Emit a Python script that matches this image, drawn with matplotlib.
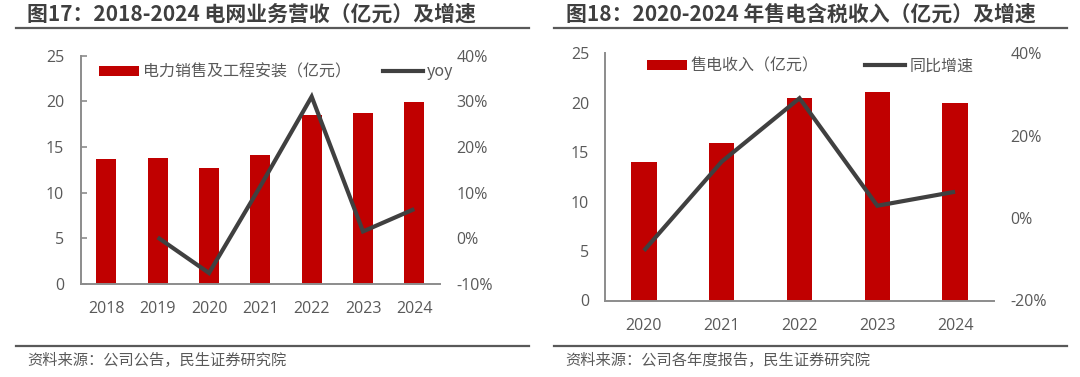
import matplotlib
matplotlib.use("Agg")
import matplotlib.pyplot as plt
from matplotlib.lines import Line2D

plt.rcParams['font.family'] = ['Noto Sans CJK SC', 'DejaVu Sans']

# ---- data ----
years1 = ['2018', '2019', '2020', '2021', '2022', '2023', '2024']
revenue1 = [13.72, 13.75, 12.66, 14.11, 18.47, 18.72, 19.88]
yoy1_years = ['2019', '2020', '2021', '2022', '2023', '2024']
yoy1 = [0.2, -7.6, 11.4, 31.0, 1.5, 6.4]

years2 = ['2020', '2021', '2022', '2023', '2024']
revenue2 = [14.03, 15.89, 20.51, 21.09, 19.94]
yoy2 = [-7.9, 13.7, 29.1, 3.0, 6.4]

title1 = '图17：2018-2024 电网业务营收（亿元）及增速'
title2 = '图18：2020-2024 年售电含税收入（亿元）及增速'
legend1 = ['电力销售及工程安装（亿元）', 'yoy']
legend2 = ['售电收入（亿元）', '同比增速']
source1 = '资料来源：公司公告，民生证券研究院'
source2 = '资料来源：公司各年度报告，民生证券研究院'

BAR = '#C00000'
LINE = '#404040'
TXT = '#595959'
SPINE = '#8C8C8C'
NUMFONT = ['Open Sans', 'Noto Sans CJK SC', 'DejaVu Sans']
W, H = 1080, 377

fig = plt.figure(figsize=(W / 100, H / 100), dpi=100)


def fx(px):
    return px / W


def fy(py):
    return (H - py) / H


def make_panel(rect, years, rev, yoy_years, yoy, ylim2, yticks2, bar_w,
               left_ticks, leg_labels, leg_xy, colspace):
    ax = fig.add_axes(rect)
    ax2 = ax.twinx()
    xs = list(range(len(years)))
    bars = ax.bar(xs, rev, width=bar_w, color=BAR, zorder=2)
    lx = [years.index(y) for y in yoy_years]
    ax2.plot(lx, yoy, color=LINE, lw=3.0, solid_capstyle='butt',
             solid_joinstyle='miter', zorder=3)
    ax.set_xlim(-0.5, len(years) - 0.5)
    ax.set_ylim(0, 25)
    ax.set_yticks([0, 5, 10, 15, 20, 25])
    ax2.set_ylim(*ylim2)
    ax2.set_yticks(yticks2)
    ax2.set_yticklabels([f'{int(v)}%' for v in yticks2])
    ax.set_xticks(xs)
    ax.set_xticklabels(years)
    for a in (ax, ax2):
        for s in a.spines.values():
            s.set_visible(False)
    ax.spines['left'].set_visible(True)
    ax.spines['bottom'].set_visible(True)
    for s in ('left', 'bottom'):
        ax.spines[s].set_color(SPINE)
        ax.spines[s].set_linewidth(1.4)
    if left_ticks:
        ax.tick_params(axis='y', direction='in', length=4, width=1.2,
                       color=SPINE, pad=12)
    else:
        ax.tick_params(axis='y', length=0, pad=11.5)
    ax.tick_params(axis='y', labelsize=11.5, labelcolor=TXT)
    ax.tick_params(axis='x', length=0, pad=12.5, labelsize=11.5, labelcolor=TXT)
    ax2.tick_params(axis='y', length=0, pad=12, labelsize=11.5, labelcolor=TXT)
    for lab in ax.get_xticklabels() + ax.get_yticklabels() + ax2.get_yticklabels():
        lab.set_family(NUMFONT)
    handles = [bars, Line2D([], [], color=LINE, lw=3.0)]
    ax2.legend(handles, leg_labels, ncol=2, frameon=False, loc='center left',
               bbox_to_anchor=leg_xy, bbox_transform=fig.transFigure,
               fontsize=11.5, handlelength=2.5, handleheight=0.62,
               handletextpad=0.25, columnspacing=colspace, borderpad=0,
               borderaxespad=0, labelcolor=TXT)
    return ax, ax2


# left panel
make_panel([fx(80.7), fy(284), fx(440) - fx(80.7), fy(55.5) - fy(284)],
           years1, revenue1, yoy1_years, yoy1, (-10, 40),
           [-10, 0, 10, 20, 30, 40], 0.39, True, legend1,
           (fx(99), fy(72)), 2.0)

# right panel
make_panel([fx(605), fy(300.5), fx(994) - fx(605), fy(53.3) - fy(300.5)],
           years2, revenue2, years2, yoy2, (-20, 40),
           [-20, 0, 20, 40], 0.325, False, legend2,
           (fx(647), fy(66)), 2.9)

# titles
fig.text(fx(27), fy(14), title1, fontsize=15, fontweight='bold',
         color='#3F3F3F', va='center', ha='left')
fig.text(fx(566), fy(14), title2, fontsize=15, fontweight='bold',
         color='#3F3F3F', va='center', ha='left')

# rules
for x0, x1 in ((16, 529), (554, 1067)):
    fig.add_artist(Line2D([fx(x0), fx(x1)], [fy(27.5), fy(27.5)],
                          color='#595959', lw=1.6, transform=fig.transFigure))
    fig.add_artist(Line2D([fx(x0), fx(x1)], [fy(345.5), fy(345.5)],
                          color='#595959', lw=1.6, transform=fig.transFigure))

# sources
fig.text(fx(27), fy(360), source1, fontsize=11, color=TXT,
         va='center', ha='left')
fig.text(fx(565), fy(360), source2, fontsize=11, color=TXT,
         va='center', ha='left')

fig.savefig('out.png', dpi=100)
